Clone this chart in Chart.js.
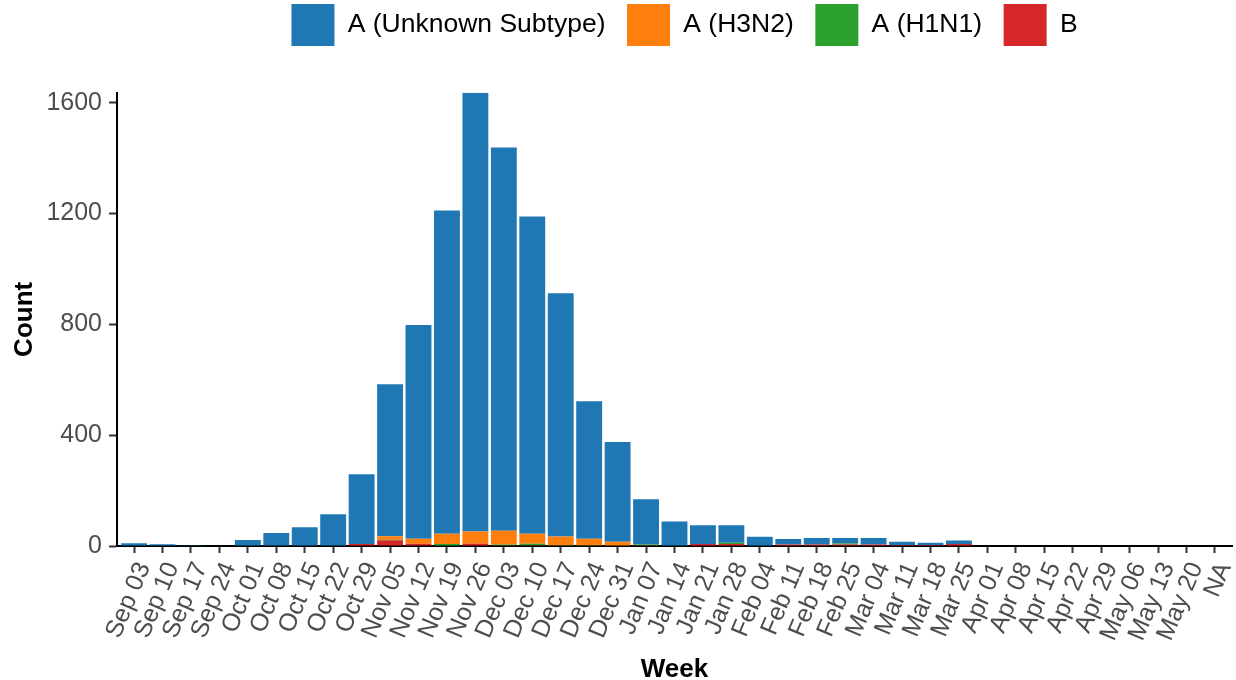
<!DOCTYPE html>
<html><head><meta charset="utf-8">
<script src="https://cdn.jsdelivr.net/npm/chart.js@4"></script>
<style>html,body{margin:0;padding:0;background:#fff}#w{width:1236px;height:680px;position:relative}</style>
</head><body><div id="w"><canvas id="c"></canvas></div>
<script>
const weeks = ['Sep 03','Sep 10','Sep 17','Sep 24','Oct 01','Oct 08','Oct 15','Oct 22','Oct 29','Nov 05','Nov 12','Nov 19','Nov 26','Dec 03','Dec 10','Dec 17','Dec 24','Dec 31','Jan 07','Jan 14','Jan 21','Jan 28','Feb 04','Feb 11','Feb 18','Feb 25','Mar 04','Mar 11','Mar 18','Mar 25','Apr 01','Apr 08','Apr 15','Apr 22','Apr 29','May 06','May 13','May 20','NA'];
const unknownA = [10,6,1,2,22,47,68,115,252,549,772,1167,1584,1383,1145,878,496,360,164,88,68,63,33,20,24,20,24,11,8,13,0,0,0,0,0,0,0,0,0];
const h3n2 = [0,0,0,0,0,0,0,0,0,12,18,37,44,50,36,31,23,15,0,0,0,0,0,0,0,0,0,0,0,0,0,0,0,0,0,0,0,0,0];
const h1n1 = [0,0,0,0,0,0,0,0,0,2,0,7,0,2,5,3,3,0,2,0,0,5,0,0,0,4,0,0,0,0,0,0,0,0,0,0,0,0,0];
const fluB = [0,0,0,0,0,0,0,0,7,21,8,0,8,3,3,0,0,0,3,0,7,7,0,5,5,5,5,4,4,7,0,0,0,0,0,0,0,0,0];
const yTicks = [0,400,800,1200,1600];

const totals = weeks.map((_, i) => unknownA[i] + h3n2[i] + h1n1[i] + fluB[i]);
const yMax = Math.max(...totals);
const pts = arr => arr.map((v, i) => ({x: i, y: v}));
const FONT = '"Liberation Sans", Arial, sans-serif';

const legendShift = {
  id: 'legendShift',
  afterLayout(chart) {
    if (chart.legend) { chart.legend.left += 10; chart.legend.right += 10; chart.legend.top += 1; chart.legend.bottom += 1; }
  }
};

new Chart(document.getElementById('c'), {
  type: 'bar',
  plugins: [legendShift],
  data: {
    datasets: [
      {label: 'B', data: pts(fluB), backgroundColor: '#d62728'},
      {label: 'A (H1N1)', data: pts(h1n1), backgroundColor: '#2ca02c'},
      {label: 'A (H3N2)', data: pts(h3n2), backgroundColor: '#ff7f0e'},
      {label: 'A (Unknown Subtype)', data: pts(unknownA), backgroundColor: '#1f77b4'}
    ]
  },
  options: {
    responsive: true, maintainAspectRatio: false, animation: false,
    layout: {padding: {top: -18.6, left: 0, right: 4, bottom: 0}},
    datasets: {bar: {barPercentage: 0.91, categoryPercentage: 1, borderWidth: 0}},
    plugins: {
      tooltip: {enabled: false},
      legend: {
        position: 'top', fullSize: false,
        labels: {
          boxWidth: 43, boxHeight: 42, padding: 21.6, color: '#000',
          font: {family: FONT, size: 26.5},
          sort: (a, b) => b.datasetIndex - a.datasetIndex
        }
      },
      title: {display: true, text: ' ', weight: 500, font: {size: 1, lineHeight: 1}, padding: {top: 36.7, bottom: 0}}
    },
    scales: {
      x: {
        type: 'linear', stacked: true, offset: false, min: -0.6, max: 38.6,
        afterBuildTicks: s => { s.ticks = weeks.map((_, i) => ({value: i})); },
        afterFit: s => { s.height = 134; s.paddingLeft = 0; s.paddingRight = 0; },
        grid: {display: true, drawOnChartArea: false, drawTicks: true, tickLength: 7, tickWidth: 2, tickColor: '#333333', offset: false},
        border: {display: true, color: '#000', width: 2},
        ticks: {autoSkip: false, minRotation: 67, maxRotation: 67, padding: 5, labelOffset: 10, color: '#4d4d4d', font: {family: FONT, size: 25}, callback: v => weeks[v] ?? ''},
        title: {display: true, text: 'Week', color: '#000', font: {family: FONT, size: 26, weight: 'bold'}, padding: {top: 0, bottom: -5}}
      },
      y: {
        stacked: true, min: 0, max: yMax,
        afterBuildTicks: s => { s.ticks = yTicks.map(v => ({value: v})); },
        afterFit: s => { s.width = 117; s.paddingTop = 0; s.paddingBottom = 0; },
        grid: {display: true, drawOnChartArea: false, drawTicks: true, tickLength: 8, tickWidth: 2, tickColor: '#333333'},
        border: {display: true, color: '#000', width: 2},
        ticks: {includeBounds: false, padding: 7, color: '#4d4d4d', font: {family: FONT, size: 25}, callback: v => String(v)},
        title: {display: true, text: 'Count', color: '#000', font: {family: FONT, size: 26, weight: 'bold'}, padding: {top: 9, bottom: 0}}
      }
    }
  }
});
</script>
</body></html>
